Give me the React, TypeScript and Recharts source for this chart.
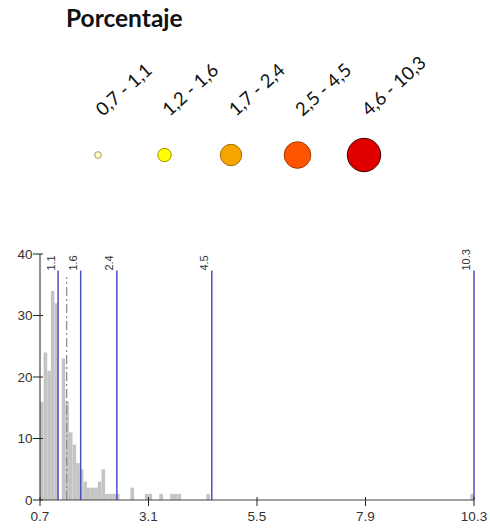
import React from 'react';
import { ComposedChart, Bar, XAxis, YAxis, ReferenceLine, ScatterChart, Scatter } from 'recharts';

const legendTitle = 'Porcentaje';
const legendLabels = ['0,7 - 1,1', '1,2 - 1,6', '1,7 - 2,4', '2,5 - 4,5', '4,6 - 10,3'];
const legendFills = ['#ffffc8', '#ffff00', '#f7a400', '#ff5500', '#e00000'];
const legendStrokes = ['#9a9a60', '#a09000', '#a07000', '#a03c00', '#3a0000'];
const legendRadii = [3.3, 6.7, 10.7, 13.3, 16.7];

const binCenters = [0.74, 0.82, 0.9, 0.98, 1.06, 1.22, 1.3, 1.38, 1.46, 1.54, 1.62, 1.7, 1.78, 1.86, 1.94, 2.02, 2.1, 2.18, 2.26, 2.34, 2.42, 2.74, 3.06, 3.14, 3.38, 3.62, 3.7, 3.78, 4.42, 10.26];
const binCounts = [16, 24, 21, 34, 32, 23, 16, 11, 9, 6, 5, 3, 2, 2, 2, 3, 5, 1, 1, 1, 1, 2, 1, 1, 1, 1, 1, 1, 1, 1];
const breakValues = [1.1, 1.6, 2.4, 4.5, 10.3];
const meanValue = 1.29;
const xTicks = [0.7, 3.1, 5.5, 7.9, 10.3];
const yTicks = [0, 10, 20, 30, 40];

const histData = binCenters.map((x, i) => ({ x, count: binCounts[i] }));
const legendData = legendLabels.map((label) => ({ label, y: 0 }));

const AXIS_FONT = 'Liberation Sans, Arial, sans-serif';

const LegendSymbol = (props: any) => {
  const { cx, cy, payload } = props;
  const i = legendLabels.indexOf(payload.label);
  const tx = cx + 5;
  const ty = cy - 38;
  return (
    <g>
      <circle cx={cx} cy={cy} r={legendRadii[i]} fill={legendFills[i]} stroke={legendStrokes[i]} strokeWidth={1} />
      <text x={tx} y={ty} transform={`rotate(-42 ${tx} ${ty})`} fontFamily="Lato, sans-serif" fontSize={18.5} fill="#111">
        {payload.label}
      </text>
    </g>
  );
};

const YTick = (props: any) => {
  const { x, y, payload } = props;
  return (
    <g>
      <line x1={x} x2={x + 10} y1={y} y2={y} stroke="#222" strokeWidth={1} />
      <text x={x - 0.5} y={y} dy={4.8} textAnchor="end" fontSize={13.5} fill="#333" fontFamily={AXIS_FONT}>
        {payload.value}
      </text>
    </g>
  );
};

const XTick = (props: any) => {
  const { x, y, payload } = props;
  return (
    <g>
      <line x1={x} x2={x} y1={y - 9} y2={y} stroke="#222" strokeWidth={1} />
      <text x={x} y={y + 14.5} textAnchor="middle" fontSize={13.5} fill="#333" fontFamily={AXIS_FONT}>
        {payload.value}
      </text>
    </g>
  );
};

const breakLabel = (text: string) => (props: any) => {
  const vb = props.viewBox || {};
  const x = vb.x - 3.5;
  const y = vb.y;
  return (
    <text x={x} y={y} transform={`rotate(-90 ${x} ${y})`} fontSize={11} fill="#333" fontFamily={AXIS_FONT}>
      {text}
    </text>
  );
};

export default function App() {
  return (
    <div style={{ position: 'absolute', left: 0, top: 0, width: 490, height: 529, background: '#fff' }}>
      <svg width={490} height={40} style={{ position: 'absolute', left: 0, top: 0 }}>
        <text x={66} y={26.7} fontFamily="Lato, sans-serif" fontWeight="bold" fontSize={24.5} fill="#111">
          {legendTitle}
        </text>
      </svg>
      <div style={{ position: 'absolute', left: 0, top: 0 }}>
        <ScatterChart width={490} height={200} margin={{ top: 0, right: 92.75, bottom: 45, left: 64.75 }}>
          <XAxis type="category" dataKey="label" hide />
          <YAxis type="number" dataKey="y" domain={[0, 1]} hide />
          <Scatter data={legendData} shape={LegendSymbol} isAnimationActive={false} />
        </ScatterChart>
      </div>
      <div style={{ position: 'absolute', left: 0, top: 229 }}>
        <ComposedChart width={490} height={300} data={histData} margin={{ top: 25, right: 16, bottom: 4, left: 8 }}>
          <XAxis
            type="number"
            dataKey="x"
            domain={[0.7, 10.3]}
            ticks={xTicks}
            allowDataOverflow
            height={25}
            tickSize={6}
            tickMargin={0}
            tickLine={false}
            tick={XTick}
            axisLine={{ stroke: '#444' }}
            interval={0}
          />
          <YAxis
            type="number"
            domain={[0, 40]}
            ticks={yTicks}
            allowDataOverflow
            width={32}
            tickSize={7}
            tickMargin={0}
            tickLine={false}
            tick={YTick}
            axisLine={{ stroke: '#222' }}
            interval={0}
          />
          <Bar dataKey="count" fill="#c4c4c4" barSize={3.6} isAnimationActive={false} />
          <ReferenceLine
            segment={[{ x: meanValue, y: 0 }, { x: meanValue, y: 36.2 }]}
            stroke="#8a8a8a"
            strokeWidth={1.2}
            strokeDasharray="9 3 2 3"
          />
          {breakValues.map((v) => (
            <ReferenceLine
              key={v}
              segment={[{ x: v, y: 0 }, { x: v, y: 37.3 }]}
              stroke="#4f4fc4"
              strokeWidth={1.5}
              label={breakLabel(String(v))}
            />
          ))}
        </ComposedChart>
      </div>
    </div>
  );
}
